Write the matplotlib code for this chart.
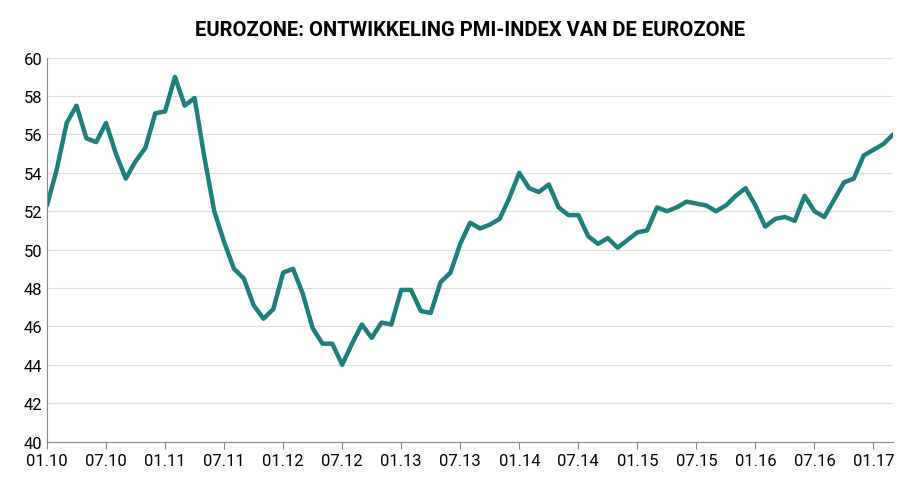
import numpy as np
import matplotlib
matplotlib.use("Agg")
from matplotlib import pyplot as plt

pmi = [52.3, 54.2, 56.6, 57.5, 55.8, 55.6, 56.6, 55.0, 53.7, 54.6, 55.3, 57.1,
       57.2, 59.0, 57.5, 57.9, 54.8, 52.0, 50.4, 49.0, 48.5, 47.1, 46.4, 46.9,
       48.8, 49.0, 47.7, 45.9, 45.1, 45.1, 44.0, 45.1, 46.1, 45.4, 46.2, 46.1,
       47.9, 47.9, 46.8, 46.7, 48.3, 48.8, 50.3, 51.4, 51.1, 51.3, 51.6, 52.7,
       54.0, 53.2, 53.0, 53.4, 52.2, 51.8, 51.8, 50.7, 50.3, 50.6, 50.1, 50.5,
       50.9, 51.0, 52.2, 52.0, 52.2, 52.5, 52.4, 52.3, 52.0, 52.3, 52.8, 53.2,
       52.3, 51.2, 51.6, 51.7, 51.5, 52.8, 52.0, 51.7, 52.6, 53.5, 53.7, 54.9,
       55.2, 55.5, 56.0]
tick_labels = ["01.10", "07.10", "01.11", "07.11", "01.12", "07.12", "01.13", "07.13",
               "01.14", "07.14", "01.15", "07.15", "01.16", "07.16", "01.17"]

plt.rcParams["font.family"] = ["Liberation Sans Narrow", "Roboto", "DejaVu Sans"]
fig, ax = plt.subplots(figsize=(9.04, 4.89), dpi=100)
fig.subplots_adjust(left=0.052, right=0.988, top=0.88, bottom=0.095)

ax.plot(np.arange(len(pmi)), pmi, color="#1b7f7b", lw=3.2, solid_capstyle="round")
ax.set_ylim(40, 60)
ax.set_yticks(range(40, 61, 2))
ax.set_xlim(0, len(pmi) - 1)
ax.set_xticks(np.arange(len(tick_labels)) * 6)
ax.set_xticklabels(tick_labels)
ax.tick_params(labelsize=12, length=0)
ax.tick_params(axis="x", length=5, color="#888888")
ax.grid(axis="y", color="#dddddd", lw=0.8)
for s in ["top", "right"]:
    ax.spines[s].set_visible(False)
for s in ["left", "bottom"]:
    ax.spines[s].set_color("#888888")
ax.set_title("EUROZONE: ONTWIKKELING PMI-INDEX VAN DE EUROZONE",
             fontsize=14.5, fontweight="bold", pad=16)
plt.savefig("out.png")
